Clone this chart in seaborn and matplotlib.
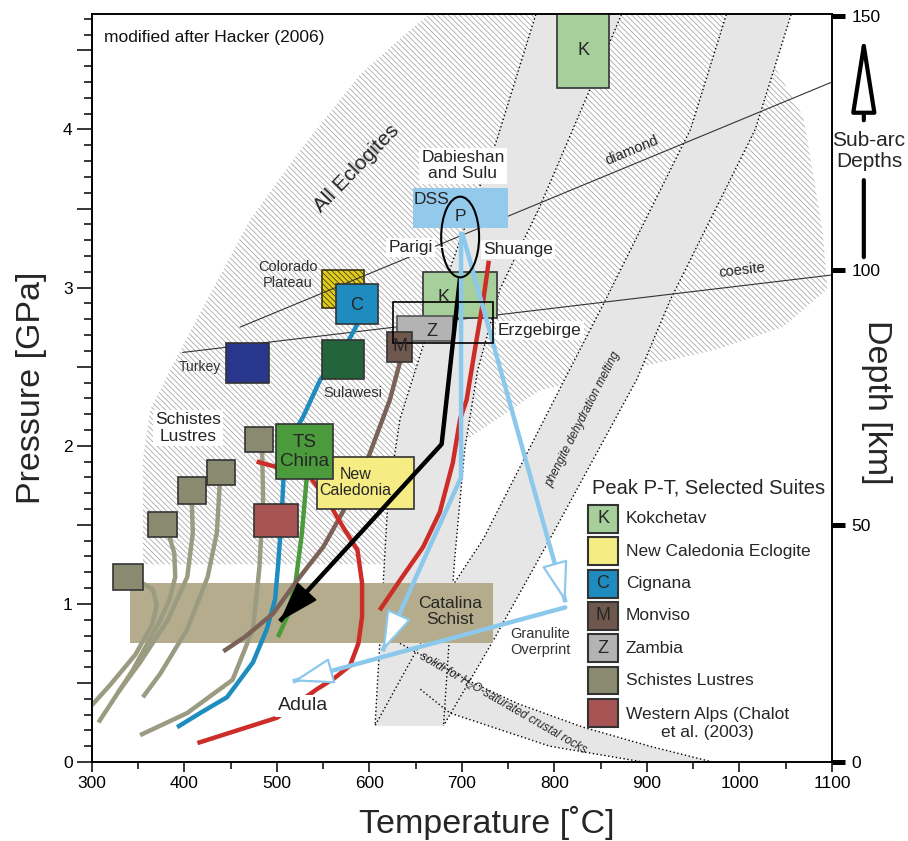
#%% packages
import seaborn as sns
import matplotlib.pyplot as plt
from matplotlib.patches import Ellipse, Rectangle
from matplotlib.ticker import MultipleLocator

#%% axes data
T_lim = [300, 1100]
P_lim = [0, 4.73]
T_ticks = [300, 400, 500, 600, 700, 800, 900, 1000, 1100]
P_ticks = [0, 0.5, 1, 1.5, 2, 2.5, 3, 3.5, 4, 4.5]
P_ticklabels = ['0', '', '1', '', '2', '', '3', '', '4', '']
depth_km = [0, 50, 100, 150]
depth_P = [0, 1.50, 3.11, 4.72]

#%% fields (T in C, P in GPa)
ecl_T = [355, 355, 363, 390, 424, 471, 525, 590, 644, 669, 1057, 1038, 1069, 1078, 1090, 1095, 1047, 976, 917, 784, 698, 617]
ecl_P = [1.25, 1.91, 2.23, 2.54, 2.92, 3.43, 3.87, 4.35, 4.63, 4.75, 4.75, 4.40, 4.08, 3.77, 3.35, 2.99, 2.75, 2.61, 2.53, 2.35, 2.01, 1.25]

band1_lt = [781, 738, 698, 660, 633, 620, 615, 606]
band1_lp = [4.75, 3.94, 3.30, 2.67, 2.17, 1.66, 1.15, 0.23]
band1_rt = [874, 838, 784, 741, 717, 703, 692, 680]
band1_rp = [4.75, 4.25, 3.51, 2.99, 2.48, 1.98, 1.28, 0.23]

pheng_lt = [987, 947, 855, 811, 723, 687, 606]
pheng_lp = [4.75, 4.00, 2.92, 2.42, 1.41, 1.09, 0.23]
pheng_rt = [1057, 1017, 925, 889, 795, 734, 680]
pheng_rp = [4.75, 4.00, 2.92, 2.42, 1.41, 0.77, 0.23]

solidi_ut = [633, 705, 760, 831, 903, 971]
solidi_up = [0.75, 0.52, 0.37, 0.22, 0.10, 0.0]
solidi_lt = [655, 687, 795, 896]
solidi_lp = [0.46, 0.31, 0.10, 0.0]

diamond_T = [460, 1100]
diamond_P = [2.75, 4.30]
coesite_T = [398, 1100]
coesite_P = [2.59, 3.08]

#%% peak P-T boxes
box_T0 = {'cat': 341, 'col': 549, 'kok_top': 803, 'dss': 647, 'kok': 658, 'zam': 630, 'mon': 619, 'cig': 564,
          'tur': 445, 'sul': 549, 'nc': 543, 'ts': 499, 'sl1': 465, 'sl2': 424, 'sl3': 393, 'sl4': 361,
          'sl5': 323, 'wa': 475}
box_T1 = {'cat': 734, 'col': 594, 'kok_top': 859, 'dss': 750, 'kok': 738, 'zam': 690, 'mon': 646, 'cig': 609,
          'tur': 491, 'sul': 594, 'nc': 648, 'ts': 561, 'sl1': 496, 'sl2': 455, 'sl3': 423, 'sl4': 392,
          'sl5': 355, 'wa': 523}
box_P0 = {'cat': 0.75, 'col': 2.87, 'kok_top': 4.26, 'dss': 3.38, 'kok': 2.81, 'zam': 2.66, 'mon': 2.53, 'cig': 2.77,
          'tur': 2.40, 'sul': 2.42, 'nc': 1.60, 'ts': 1.79, 'sl1': 1.96, 'sl2': 1.75, 'sl3': 1.63, 'sl4': 1.42,
          'sl5': 1.09, 'wa': 1.42}
box_P1 = {'cat': 1.13, 'col': 3.11, 'kok_top': 4.80, 'dss': 3.63, 'kok': 3.10, 'zam': 2.82, 'mon': 2.72, 'cig': 3.02,
          'tur': 2.65, 'sul': 2.67, 'nc': 1.93, 'ts': 2.14, 'sl1': 2.12, 'sl2': 1.91, 'sl3': 1.80, 'sl4': 1.58,
          'sl5': 1.25, 'wa': 1.63}
erz_T = [625, 734]
erz_P = [2.65, 2.91]
p_ellipse = [698, 3.32, 41, 0.51]  # centre T, centre P, width, height

#%% P-T paths
sl1_T = [484, 485, 481, 474, 452, 403, 352]
sl1_P = [1.96, 1.66, 1.23, 0.84, 0.52, 0.31, 0.17]
sl2_T = [438, 435, 425, 403, 374, 355]
sl2_P = [1.75, 1.45, 1.17, 0.84, 0.56, 0.41]
sl3_T = [408, 409, 403, 382, 352, 328]
sl3_P = [1.63, 1.45, 1.17, 0.90, 0.63, 0.44]
sl4_T = [384, 389, 390, 384, 374, 344, 307]
sl4_P = [1.42, 1.32, 1.17, 1.03, 0.90, 0.58, 0.25]
sl5_T = [355, 366, 370, 365, 347, 320, 300]
sl5_P = [1.13, 1.09, 0.99, 0.87, 0.68, 0.49, 0.36]
cig_T = [587, 576, 547, 528, 514, 507, 505, 501, 498, 489, 474, 446, 417, 392]
cig_P = [2.77, 2.65, 2.42, 2.18, 2.04, 1.79, 1.55, 1.23, 1.03, 0.84, 0.63, 0.41, 0.31, 0.22]
ts_T = [532, 527, 520, 511, 501]
ts_P = [1.79, 1.45, 1.13, 0.92, 0.79]
mon_T = [633, 622, 606, 590, 571, 550, 522, 496, 465, 442]
mon_P = [2.53, 2.29, 2.04, 1.79, 1.58, 1.36, 1.15, 0.94, 0.79, 0.70]
adula_T = [478, 503, 536, 554, 571, 587, 592, 592, 588, 579, 562, 543, 500, 414]
adula_P = [1.90, 1.86, 1.80, 1.66, 1.49, 1.34, 1.13, 0.92, 0.75, 0.61, 0.53, 0.46, 0.28, 0.12]
shu_T = [729, 723, 714, 705, 698, 690, 676, 658, 633, 611]
shu_P = [3.17, 2.92, 2.61, 2.29, 2.17, 1.89, 1.58, 1.36, 1.15, 0.96]
erzp_T = [698, 678, 503]
erzp_P = [3.07, 2.01, 0.89]
dss1_T = [699, 699, 614]
dss1_P = [3.35, 1.80, 0.70]
dss2_T = [700, 812]
dss2_P = [3.35, 1.01]
dss3_T = [813, 517]
dss3_P = [0.98, 0.51]

#%% legend
leg_label = ['Kokchetav', 'New Caledonia Eclogite', 'Cignana', 'Monviso', 'Zambia', 'Schistes Lustres',
             'Western Alps (Chalot\net al. (2003)']
leg_letter = ['K', '', 'C', 'M', 'Z', '', '']

#%% colours
col = {'kok_top': '#a7cf9c', 'kok': '#a7cf9c', 'dss': '#93c9eb', 'zam': '#b3b3b3', 'mon': '#6e584e',
       'cig': '#1e8cbe', 'col': '#e1cd1e', 'tur': '#28378c', 'sul': '#23643c', 'nc': '#f6ec84',
       'ts': '#4b9b3c', 'sl1': '#8a8a70', 'sl2': '#8a8a70', 'sl3': '#8a8a70', 'sl4': '#8a8a70',
       'sl5': '#8a8a70', 'wa': '#a85454', 'cat': '#b4ac8c'}
leg_color = ['#a7cf9c', '#f6ec84', '#1e8cbe', '#6e584e', '#b3b3b3', '#8a8a70', '#a85454']
path_olive = '#9b9b82'
red = '#cd2d28'
lblue = '#8cc8eb'
band_gray = '#e6e6e6'

#%% style
sns.set_theme(style='ticks')
plt.rcParams['font.family'] = ['Liberation Sans', 'DejaVu Sans']
plt.rcParams['hatch.linewidth'] = 0.55

fig = plt.figure(figsize=(9.08, 8.41), dpi=100)
ax = fig.add_axes([0.1013, 0.0939, 0.8150, 0.8894])
ax.set_xlim(T_lim)
ax.set_ylim(P_lim)

#%% background fields
ax.fill(ecl_T, ecl_P, facecolor='white', edgecolor='#a3a3a3', hatch='\\\\\\\\\\\\', linewidth=0, zorder=1)

def band(lt, lp, rt, rp):
    ax.fill(lt + rt[::-1], lp + rp[::-1], color=band_gray, lw=0, zorder=2)
    for t, p in ((lt, lp), (rt, rp)):
        ax.plot(t, p, color='black', lw=1.0, ls=(0, (1, 1.8)), zorder=2.5)

band(band1_lt, band1_lp, band1_rt, band1_rp)
band(pheng_lt, pheng_lp, pheng_rt, pheng_rp)
band(solidi_ut, solidi_up, solidi_lt, solidi_lp)

ax.plot(diamond_T, diamond_P, color='#333333', lw=0.8, zorder=4)
ax.plot(coesite_T, coesite_P, color='#333333', lw=0.8, zorder=4)

#%% boxes
def box(k, z, edge='#333333', lw=1.2, hatch=None):
    ax.bar(box_T0[k], box_P1[k] - box_P0[k], width=box_T1[k] - box_T0[k], bottom=box_P0[k],
           align='edge', color=col[k], edgecolor=edge, linewidth=lw, hatch=hatch, zorder=z)

box('cat', 3, edge='none', lw=0)
box('col', 3.5, edge='#3a3410', lw=1.2, hatch='\\\\\\\\\\\\')
box('kok_top', 6)
box('dss', 6, edge='none', lw=0)
box('kok', 6)
box('zam', 6, edge='#555555')
box('mon', 6)
box('cig', 6)
box('tur', 6)
box('sul', 6)
for k in ['sl1', 'sl2', 'sl3', 'sl4', 'sl5', 'wa', 'nc', 'ts']:
    box(k, 6)

ax.bar(erz_T[0], erz_P[1] - erz_P[0], width=erz_T[1] - erz_T[0], bottom=erz_P[0], align='edge',
       fill=False, edgecolor='black', linewidth=1.2, zorder=8)
ax.add_patch(Ellipse((p_ellipse[0], p_ellipse[1]), p_ellipse[2], p_ellipse[3], fill=False,
                     edgecolor='black', lw=1.5, zorder=8))

#%% paths
def path(T, P, color, lw=3.2, z=5):
    sns.lineplot(x=T, y=P, sort=False, estimator=None, color=color, lw=lw, ax=ax, zorder=z,
                 legend=False, solid_capstyle='butt')

for T, P in [(sl1_T, sl1_P), (sl2_T, sl2_P), (sl3_T, sl3_P), (sl4_T, sl4_P), (sl5_T, sl5_P)]:
    path(T, P, path_olive)
path(cig_T, cig_P, '#1e8cbe')
path(ts_T, ts_P, '#4b9b3c')
path(mon_T, mon_P, '#7b6258')
path(adula_T, adula_P, red)
path(shu_T, shu_P, red, z=7)
path(erzp_T, erzp_P, 'black', z=7)
path(dss1_T, dss1_P, lblue, z=7)
path(dss2_T, dss2_P, lblue, z=7)
path(dss3_T, dss3_P, lblue, z=7)

def head(T, P, ec, fc, z=7.5):
    ax.annotate('', xy=(T[-1], P[-1]), xytext=(T[-2], P[-2]),
                arrowprops=dict(arrowstyle='-|>,head_length=1.3,head_width=0.42', mutation_scale=20,
                                lw=1.6, ec=ec, fc=fc, shrinkA=0, shrinkB=0), zorder=z)

head(erzp_T, erzp_P, 'black', 'black')
head(dss1_T, dss1_P, lblue, 'white')
head(dss2_T, dss2_P, lblue, 'white')
head(dss3_T, dss3_P, lblue, 'white')

#%% labels
wbox = dict(boxstyle='square,pad=0.12', fc='white', ec='none')
ax.text(0.016, 0.968, 'modified after Hacker (2006)', transform=ax.transAxes, fontsize=12.5,
        ha='left', va='center', color='#111111')
ax.text(586, 3.75, 'All Eclogites', fontsize=15, rotation=46, ha='center', va='center', zorder=9)
ax.text(701, 3.77, 'Dabieshan\nand Sulu', fontsize=12.5, ha='center', va='center', bbox=wbox,
        linespacing=1.1, zorder=9)
ax.text(648, 3.56, 'DSS', fontsize=12.5, ha='left', va='center', zorder=9)
ax.text(698, 3.45, 'P', fontsize=12.5, ha='center', va='center', zorder=9)
ax.annotate('Parigi', xy=(684, 3.255), xytext=(668.6, 3.253), fontsize=12.5, ha='right', va='center',
            bbox=wbox, arrowprops=dict(arrowstyle='-', lw=0.8, shrinkA=0, shrinkB=0), zorder=9)
ax.text(723, 3.24, 'Shuange', fontsize=12.5, ha='left', va='center', bbox=wbox, zorder=9)
ax.text(739, 2.73, 'Erzgebirge', fontsize=12.5, ha='left', va='center', bbox=wbox, zorder=9)
ax.text(831, 4.50, 'K', fontsize=13, ha='center', va='center', zorder=9)
ax.text(680, 2.94, 'K', fontsize=13, ha='center', va='center', zorder=9)
ax.text(668, 2.72, 'Z', fontsize=13, ha='center', va='center', zorder=9)
ax.text(633, 2.63, 'M', fontsize=13, ha='center', va='center', zorder=9)
ax.text(586.5, 2.89, 'C', fontsize=13, ha='center', va='center', zorder=9)
ax.text(512, 3.08, 'Colorado\nPlateau', fontsize=10.5, ha='center', va='center', color='#333333',
        linespacing=1.15, zorder=9)
ax.text(417, 2.50, 'Turkey', fontsize=10, ha='center', va='center', color='#333333', zorder=9)
ax.text(582, 2.335, 'Sulawesi', fontsize=10.5, ha='center', va='center', color='#333333', zorder=9)
ax.text(530, 1.96, 'TS\nChina', fontsize=13.5, ha='center', va='center', linespacing=1.1, zorder=9)
ax.text(585, 1.77, 'New\nCaledonia', fontsize=11.5, ha='center', va='center', linespacing=1.1, zorder=9)
ax.text(404, 2.11, 'Schistes\nLustres', fontsize=12.5, ha='center', va='center', bbox=wbox,
        linespacing=1.15, zorder=9)
ax.text(687, 0.95, 'Catalina\nSchist', fontsize=12.5, ha='center', va='center', linespacing=1.1, zorder=9)
ax.text(528, 0.355, 'Adula', fontsize=14, ha='center', va='center', bbox=wbox, zorder=9)
ax.text(785, 0.76, 'Granulite\nOverprint', fontsize=10.5, ha='center', va='center', color='#333333',
        linespacing=1.15, zorder=9)
ax.text(884, 3.87, 'diamond', fontsize=10.5, rotation=22.6, ha='center', va='center', zorder=9)
ax.text(1003, 3.11, 'coesite', fontsize=10.5, rotation=6.8, ha='center', va='center', zorder=9)
ax.text(831, 2.165, 'phengite dehydration melting', fontsize=8.5, style='italic', rotation=63,
        ha='center', va='center', zorder=9)
ax.text(744, 0.37, 'solidi for H₂O-saturated crustal rocks', fontsize=8.5, style='italic', rotation=-30,
        ha='center', va='center', zorder=9)

#%% legend
ax.text(0.6757, 0.366, 'Peak P-T, Selected Suites', transform=ax.transAxes, fontsize=14.5,
        ha='left', va='center', zorder=10)
for i, (lab, let, c) in enumerate(zip(leg_label, leg_letter, leg_color)):
    y = 0.325 - i * 0.0432
    ax.add_patch(Rectangle((0.6703, y - 0.0187), 0.0405, 0.0374, transform=ax.transAxes, fc=c,
                           ec='#333333', lw=1.5, zorder=10))
    ax.text(0.6906, y, let, transform=ax.transAxes, fontsize=13, ha='center', va='center', zorder=11)
    ty = y - 0.0147 if '\n' in lab else y
    ax.text(0.7216, ty, lab, transform=ax.transAxes, fontsize=12.5, ha='left', va='center',
            multialignment='center', linespacing=1.25, zorder=11)

#%% axes styling
ax.set_xticks(T_ticks)
ax.set_xticklabels([str(t) for t in T_ticks])
ax.set_yticks(P_ticks)
ax.set_yticklabels(P_ticklabels)
ax.xaxis.set_minor_locator(MultipleLocator(50))
ax.yaxis.set_minor_locator(MultipleLocator(0.1))
ax.tick_params(axis='both', which='both', colors='black', width=1.1, labelsize=12.5)
ax.tick_params(axis='y', which='major', length=11, pad=3)
ax.tick_params(axis='y', which='minor', length=6)
ax.tick_params(axis='x', which='major', length=7, pad=3)
ax.tick_params(axis='x', which='minor', length=5)
for s in ax.spines.values():
    s.set_color('black')
    s.set_linewidth(1.2)
    s.set_visible(True)
ax.set_xlabel('')
ax.set_ylabel('')

ax2 = ax.twinx()
ax2.set_ylim(P_lim)
ax2.set_yticks(depth_P)
ax2.set_yticklabels([str(d) for d in depth_km])
ax2.tick_params(axis='y', length=9, width=3.6, labelsize=12.5, pad=5, colors='black')
for s in ax2.spines.values():
    s.set_color('black')
    s.set_linewidth(1.2)

ax.text(-0.0824, 0.5, 'Pressure [GPa]', transform=ax.transAxes, fontsize=24.5, rotation=90,
        ha='center', va='center')
ax.text(0.534, -0.0816, 'Temperature [˚C]', transform=ax.transAxes, fontsize=24.5,
        ha='center', va='center')
ax.text(1.0608, 0.481, 'Depth [km]', transform=ax.transAxes, fontsize=24.5, rotation=-90,
        ha='center', va='center')

# sub-arc depth arrow
ax.annotate('', xy=(1.043, 0.975), xytext=(1.043, 0.858), xycoords='axes fraction',
            annotation_clip=False,
            arrowprops=dict(arrowstyle='-|>,head_length=2.4,head_width=0.38', mutation_scale=20,
                            lw=3, ec='black', fc='white', shrinkA=0, shrinkB=0))
ax.annotate('', xy=(1.043, 0.675), xytext=(1.043, 0.778), xycoords='axes fraction',
            annotation_clip=False, arrowprops=dict(arrowstyle='-', lw=3, color='black',
                                                   shrinkA=0, shrinkB=0))
ax.text(1.05, 0.817, 'Sub-arc\nDepths', transform=ax.transAxes, fontsize=15, ha='center',
        va='center', linespacing=1.15)

fig.savefig('out.png', dpi=100)
